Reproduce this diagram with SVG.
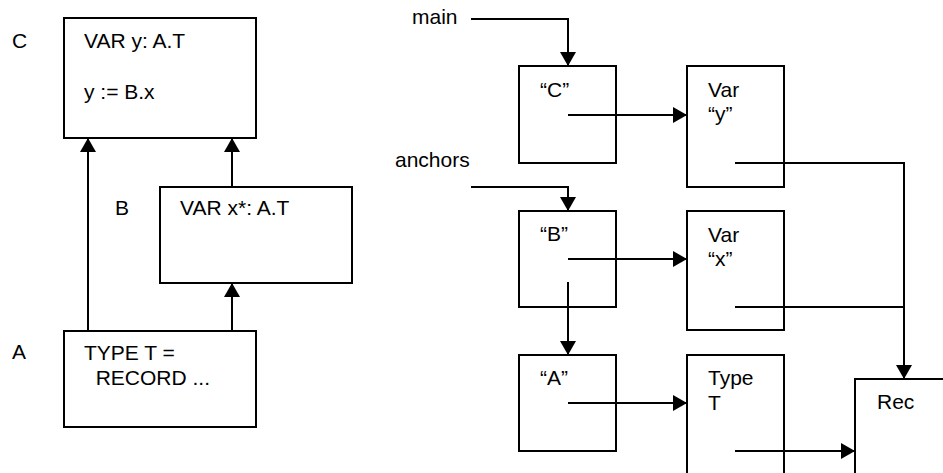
<svg xmlns="http://www.w3.org/2000/svg" width="943" height="473" viewBox="0 0 943 473">
<style>
text { font-family: "Liberation Sans", Arial, sans-serif; font-size: 21px; fill: #000; }
.box { fill: #fff; stroke: #000; stroke-width: 2; }
.ln { fill: none; stroke: #000; stroke-width: 2; }
</style>
<defs>
<marker id="ah" viewBox="0 0 14 16" refX="14" refY="8" markerWidth="14" markerHeight="16" markerUnits="userSpaceOnUse" orient="auto">
<path d="M0,0 L14,8 L0,16 Z" fill="#000"/>
</marker>
</defs>
<rect width="943" height="473" fill="#fff"/>

<g id="modC">
<rect class="box" x="64" y="18" width="192" height="120"/>
<text x="12" y="48">C</text>
<text x="84" y="48">VAR y: A.T</text>
<text x="84" y="99">y := B.x</text>
</g>
<g id="modB">
<rect class="box" x="160" y="187" width="192" height="96"/>
<text x="115" y="215">B</text>
<text x="180" y="215">VAR x*: A.T</text>
</g>
<g id="modA">
<rect class="box" x="64" y="331" width="192" height="96"/>
<text x="12" y="359">A</text>
<text x="84" y="360">TYPE T =</text>
<text x="84" y="385" xml:space="preserve">  RECORD ...</text>
</g>

<g id="labels">
<text x="412" y="24">main</text>
<text x="395" y="167">anchors</text>
</g>

<g id="objC">
<rect class="box" x="519" y="66" width="97" height="97"/>
<text x="540" y="97">“C”</text>
</g>
<g id="objB">
<rect class="box" x="519" y="211" width="97" height="96"/>
<text x="540" y="241">“B”</text>
</g>
<g id="objA">
<rect class="box" x="519" y="355" width="97" height="96"/>
<text x="540" y="385">“A”</text>
</g>
<g id="varY">
<rect class="box" x="687" y="66" width="97" height="121"/>
<text x="708" y="97">Var</text>
<text x="708" y="121">“y”</text>
</g>
<g id="varX">
<rect class="box" x="687" y="211" width="97" height="119"/>
<text x="708" y="242">Var</text>
<text x="708" y="266">“x”</text>
</g>
<g id="typeT">
<rect class="box" x="687" y="355" width="97" height="130"/>
<text x="708" y="385">Type</text>
<text x="708" y="410">T</text>
</g>
<g id="rec">
<rect class="box" x="855" y="379" width="100" height="110"/>
<text x="877" y="409">Rec</text>
</g>

<g id="connectors">
<line class="ln" x1="88" y1="331" x2="88" y2="138" marker-end="url(#ah)"/>
<line class="ln" x1="232" y1="187" x2="232" y2="138" marker-end="url(#ah)"/>
<line class="ln" x1="232" y1="331" x2="232" y2="283" marker-end="url(#ah)"/>
<polyline class="ln" points="471,19 568,19 568,66" marker-end="url(#ah)"/>
<polyline class="ln" points="471,187 568,187 568,211" marker-end="url(#ah)"/>
<line class="ln" x1="568" y1="115" x2="687" y2="115" marker-end="url(#ah)"/>
<line class="ln" x1="568" y1="259" x2="687" y2="259" marker-end="url(#ah)"/>
<line class="ln" x1="568" y1="282" x2="568" y2="355" marker-end="url(#ah)"/>
<line class="ln" x1="568" y1="403" x2="687" y2="403" marker-end="url(#ah)"/>
<polyline class="ln" points="735,163 904,163 904,379" marker-end="url(#ah)"/>
<line class="ln" x1="735" y1="307" x2="904" y2="307"/>
<line class="ln" x1="735" y1="451" x2="855" y2="451" marker-end="url(#ah)"/>
</g>
</svg>
